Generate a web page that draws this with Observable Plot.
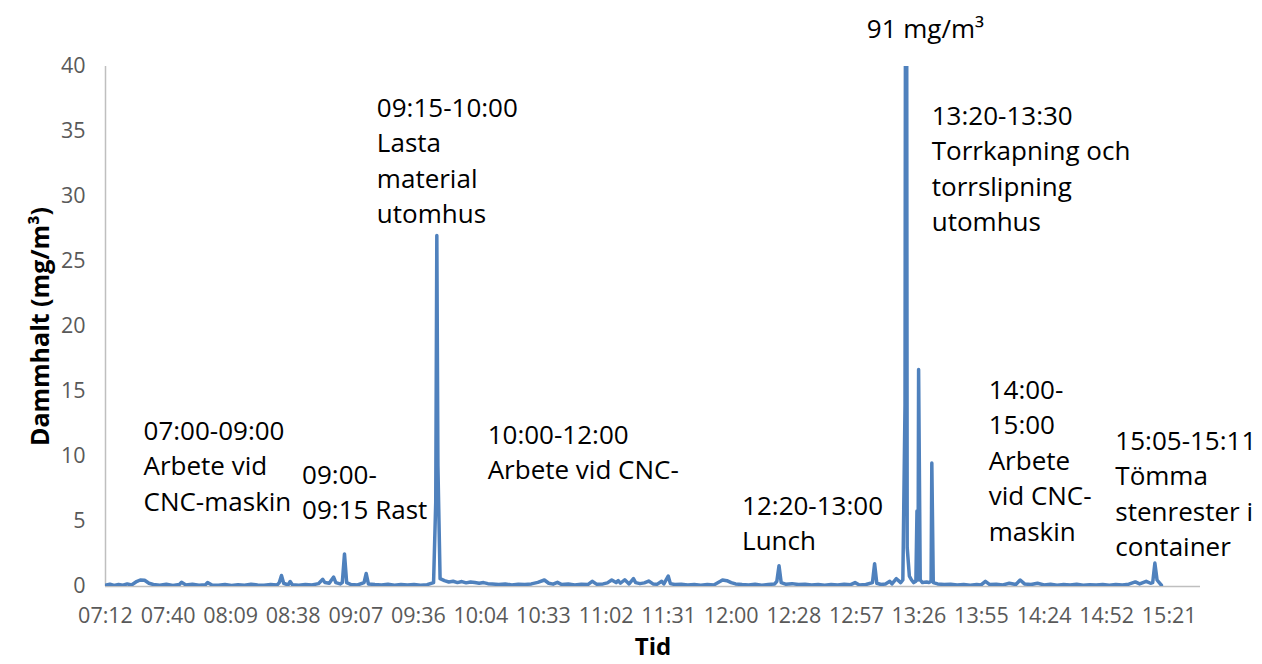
<!DOCTYPE html>
<html><head><meta charset="utf-8">
<script src="https://cdn.jsdelivr.net/npm/d3@7"></script>
<script src="https://cdn.jsdelivr.net/npm/@observablehq/plot@0.6"></script>
<style>body{margin:0;background:#fff}</style>
</head><body><div id="chart"></div>
<script>
// Measurement times (HH:MM or HH:MM:SS) and dust concentration (mg/m3)
const times = [
 "07:12","07:14","07:16","07:18","07:20","07:22","07:24","07:26","07:28","07:30",
 "07:32","07:34","07:37","07:40","07:43","07:46","07:47","07:49","07:52","07:55",
 "07:58","07:59","08:01",
 "08:04","08:07","08:10","08:13","08:16","08:19","08:22","08:25","08:28","08:31",
 "08:32","08:33","08:34","08:36","08:37","08:38","08:41","08:44","08:47","08:50",
 "08:52","08:53","08:55","08:56","08:57","08:58","09:00","09:01","09:02","09:03",
 "09:05","09:08","09:11","09:12","09:13","09:16",
 "09:19","09:22","09:25","09:28","09:31","09:34","09:37","09:40","09:43","09:44",
 "09:44:30","09:45","09:46","09:48","09:50","09:52","09:54","09:56","09:58","10:00",
 "10:02","10:04","10:06","10:08","10:10",
 "10:13","10:16","10:19","10:22","10:25","10:28","10:31","10:34","10:36","10:38",
 "10:40","10:42","10:45","10:48","10:51","10:54","10:56","10:58",
 "11:01","11:03","11:05","11:07","11:08","11:09","11:11","11:13","11:15","11:16",
 "11:18","11:20","11:22","11:24","11:26","11:28","11:29","11:31","11:32","11:34",
 "11:37","11:40","11:43","11:46","11:49","11:52","11:55","11:56","11:58","12:00",
 "12:02",
 "12:05","12:08","12:11","12:14","12:17","12:20","12:21","12:22","12:23","12:25",
 "12:28","12:31","12:34","12:37","12:40","12:43","12:46","12:49","12:52","12:55",
 "12:57","12:59","13:02","13:05","13:06","13:07","13:09","13:11","13:13","13:14",
 "13:16","13:17","13:18","13:19",
 "13:20","13:20:30","13:21","13:22","13:23","13:24","13:25","13:25:30","13:26","13:26:15",
 "13:27","13:28","13:30","13:31","13:32","13:32:20","13:33","13:35","13:38","13:41",
 "13:44","13:47","13:50","13:53","13:55","13:57","13:59",
 "14:02","14:05","14:08","14:11","14:13","14:15","14:18","14:21","14:24","14:27",
 "14:30","14:33","14:36","14:39","14:42","14:45","14:48","14:51","14:54","14:57",
 "15:00","15:03","15:06","15:08","15:11","15:13","15:14","15:15","15:16","15:17",
 "15:18"
];
const dust = [
 0.10,0.18,0.08,0.15,0.10,0.20,0.12,0.35,0.50,0.48,
 0.25,0.15,0.10,0.18,0.08,0.15,0.32,0.12,0.18,0.10,
 0.14,0.30,0.12,
 0.10,0.16,0.08,0.14,0.10,0.18,0.12,0.10,0.15,0.12,
 0.30,0.85,0.25,0.12,0.38,0.14,0.10,0.16,0.12,0.22,
 0.55,0.30,0.25,0.50,0.72,0.30,0.20,0.30,2.50,0.30,
 0.15,0.12,0.30,1.00,0.20,0.15,
 0.12,0.18,0.10,0.15,0.12,0.16,0.10,0.14,0.30,6.50,
 27.0,9.30,0.60,0.45,0.35,0.40,0.30,0.38,0.28,0.35,
 0.30,0.25,0.30,0.22,0.20,
 0.15,0.20,0.12,0.18,0.15,0.20,0.32,0.50,0.25,0.18,
 0.32,0.15,0.20,0.12,0.18,0.15,0.40,0.18,
 0.20,0.28,0.50,0.30,0.45,0.25,0.52,0.20,0.60,0.30,
 0.22,0.28,0.42,0.20,0.18,0.40,0.20,0.80,0.22,0.15,
 0.18,0.12,0.16,0.10,0.15,0.12,0.40,0.50,0.45,0.30,
 0.20,
 0.15,0.12,0.18,0.10,0.15,0.20,0.40,1.60,0.30,0.18,
 0.22,0.15,0.18,0.12,0.16,0.10,0.15,0.12,0.18,0.14,
 0.30,0.12,0.15,0.30,1.75,0.25,0.15,0.20,0.40,0.20,
 0.60,0.45,0.30,0.50,
 14.0,91.0,3.00,0.80,0.50,0.30,0.40,5.80,0.50,16.7,
 0.50,0.30,0.35,0.30,0.40,9.50,0.30,0.20,0.15,0.18,
 0.12,0.16,0.10,0.15,0.12,0.40,0.15,
 0.18,0.12,0.25,0.15,0.50,0.20,0.15,0.25,0.12,0.18,
 0.10,0.15,0.12,0.18,0.10,0.14,0.12,0.16,0.10,0.15,
 0.12,0.18,0.35,0.20,0.40,0.25,0.30,1.80,0.50,0.30,
 0.10
];
// Axis ticks (x in fractions of a day, as in the spreadsheet) and labels
const xTickDays = [0.30,0.32,0.34,0.36,0.38,0.40,0.42,0.44,0.46,0.48,0.50,0.52,0.54,0.56,0.58,0.60,0.62,0.64];
const xTickLabels = ["07:12","07:40","08:09","08:38","09:07","09:36","10:04","10:33","11:02","11:31","12:00","12:28","12:57","13:26","13:55","14:24","14:52","15:21"];
const yTicks = [0,5,10,15,20,25,30,35,40];
const yLabel = "Dammhalt (mg/m³)";
const xLabel = "Tid";
// Annotation texts
const noteTexts = [
 "07:00-09:00\nArbete vid\nCNC-maskin",
 "09:00-\n09:15 Rast",
 "09:15-10:00\nLasta\nmaterial\nutomhus",
 "10:00-12:00\nArbete vid CNC-",
 "12:20-13:00\nLunch",
 "91 mg/m³",
 "13:20-13:30\nTorrkapning och\ntorrslipning\nutomhus",
 "14:00-\n15:00\nArbete\nvid CNC-\nmaskin",
 "15:05-15:11\nTömma\nstenrester i\ncontainer"
];
// Annotation placement (minutes since midnight, mg/m3 level of text top)
const noteX = [449.5, 522.5, 556.9, 607.9, 725.0, 782.4, 812.3, 838.5, 896.8];
const noteY = [13.23, 9.84, 38.07, 12.92, 7.46, 44.1, 37.46, 16.38, 12.46];

if (times.length !== dust.length) console.error("length mismatch", times.length, dust.length);
const toMin = s => { const p = s.split(":").map(Number); return p[0]*60 + p[1] + (p[2]||0)/60; };
const rows = times.map((t,i) => ({m: toMin(t), v: dust[i]}));
const notes = noteTexts.map((t,i) => ({t, x: noteX[i], y: noteY[i]}));
const xTicks = xTickDays.map(d => d*1440);
const labelOf = new Map(xTicks.map((t,i) => [t, xTickLabels[i]]));
const x0 = 0.30*1440, x1 = 0.65*1440;
const FONT = "'Open Sans', 'DejaVu Sans', sans-serif";
const AX = "#bfbfbf";

const chart = Plot.plot({
  width: 1262, height: 664,
  marginTop: 66, marginBottom: 78, marginLeft: 105, marginRight: 62,
  style: {fontFamily: FONT, fontSize: "21.5px", color: "#595959", background: "#fff"},
  x: {domain: [x0, x1]},
  y: {domain: [0, 40]},
  marks: [
    Plot.ruleY([0], {x1: x0, x2: x1, stroke: AX, strokeWidth: 1.5}),
    Plot.ruleX([x0], {y1: 0, y2: 40, stroke: AX, strokeWidth: 1.5}),
    Plot.axisY({ticks: yTicks, tickSize: 0, tickPadding: 20, fontSize: 21.5, fill: "#595959", label: null}),
    Plot.axisX({ticks: xTicks, tickSize: 0, tickPadding: 21, fontSize: 21.5, fill: "#595959", label: null,
                tickFormat: d => labelOf.get(d)}),
    Plot.line(rows, {x: "m", y: "v", stroke: "#4f81bd", strokeWidth: 3.5, clip: true, curve: "linear", strokeLinejoin: "round"}),
    Plot.text(notes, {x: "x", y: "y", text: "t", textAnchor: "start", lineAnchor: "top", lineHeight: 1.365,
                      fontSize: 26, fill: "#000"}),
    Plot.text([yLabel], {frameAnchor: "left", rotate: -90, dx: -65, textAnchor: "middle", lineAnchor: "middle",
                         fontSize: 25, fontWeight: "bold", fill: "#000"}),
    Plot.text([xLabel], {frameAnchor: "bottom", dy: 61, textAnchor: "middle", lineAnchor: "middle",
                         fontSize: 24, fontWeight: "bold", fill: "#000"})
  ]
});
document.getElementById("chart").append(chart);
</script>
</body></html>
